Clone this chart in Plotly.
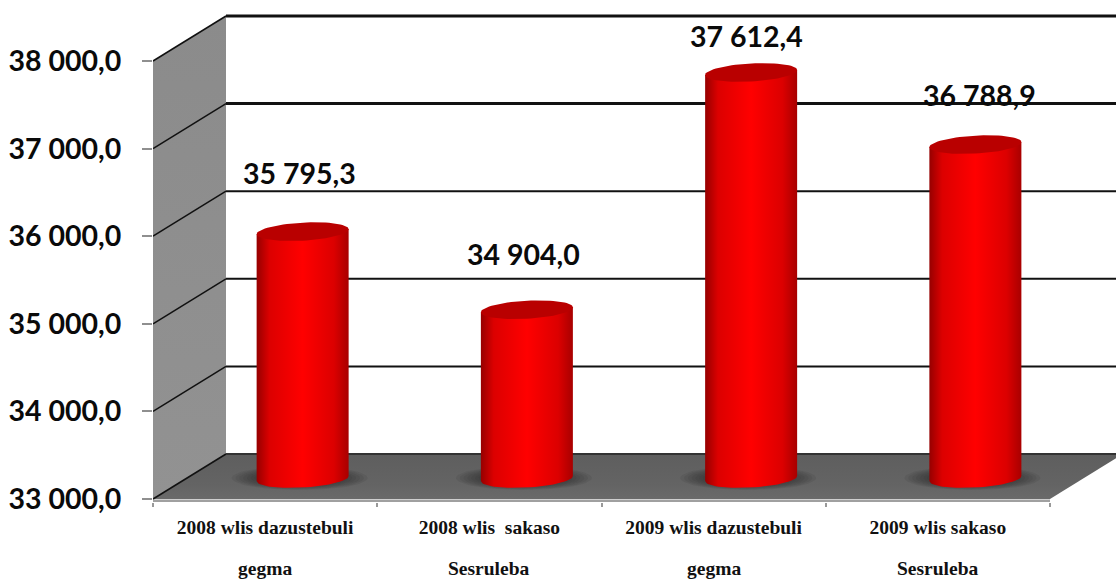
import numpy as np
import plotly.graph_objects as go

categories_line1 = ["2008 wlis dazustebuli", "2008 wlis  sakaso", "2009 wlis dazustebuli", "2009 wlis sakaso"]
categories_line2 = ["gegma", "Sesruleba", "gegma", "Sesruleba"]
values = [35795.3, 34904.0, 37612.4, 36788.9]
value_labels = ["35 795,3", "34 904,0", "37 612,4", "36 788,9"]
y_ticks = [33000, 34000, 35000, 36000, 37000, 38000]
y_tick_labels = ["33 000,0", "34 000,0", "35 000,0", "36 000,0", "37 000,0", "38 000,0"]

# Pixel geometry of the fake 3-D box, expressed through the axes' scale
PX_X = 224.25   # px per category
PX_Y = 0.0876   # px per value unit
DEPTH_X = 73 / PX_X
DEPTH_Y = 45 / PX_Y
BAR_NUDGE = 1 / PX_X
BASE_NUDGE = 2 / PX_Y
HALF_W = 46 / PX_X
ELL_H = 9 / PX_Y
TILT = 2.5 / PX_Y
LABEL_LIFT = [59, 56, 36, 50]   # px above the cylinder top
LABEL_SHIFT = [-3, -3, -5, 4]

x_min, x_max = -0.5, -0.5 + 963 / PX_X
y_min, y_max = 33000 - 3 / PX_Y, 33000 + 499 / PX_Y
n = len(values)
floor_y, top_y = y_ticks[0], y_ticks[-1]

fig = go.Figure()


def poly(xs, ys, color=None, gradient=None, line=None, width=0):
    kw = dict(fillgradient=gradient) if gradient else dict(fillcolor=color)
    fig.add_trace(go.Scatter(
        x=list(xs), y=list(ys), mode="lines", fill="toself",
        line=dict(color=line or "rgba(0,0,0,0)", width=width),
        hoverinfo="skip", showlegend=False, **kw))


def seg(xs, ys, color, width):
    fig.add_trace(go.Scatter(x=xs, y=ys, mode="lines",
                             line=dict(color=color, width=width),
                             hoverinfo="skip", showlegend=False))


left, right = -0.5, n - 0.5
# side wall
poly([left, left + DEPTH_X, left + DEPTH_X, left],
     [top_y, top_y + DEPTH_Y, floor_y + DEPTH_Y, floor_y],
     gradient=dict(type="vertical", colorscale=[[0, "#929292"], [1, "#8b8b8b"]]))
# floor
poly([left, left + DEPTH_X, right + DEPTH_X, right],
     [floor_y, floor_y + DEPTH_Y, floor_y + DEPTH_Y, floor_y],
     gradient=dict(type="vertical", colorscale=[[0, "#6a6a6a"], [0.3, "#646464"], [1, "#5e5e5e"]]))
# floor lip
seg([left, right], [y_min + 10, y_min + 10], "#a0a0a0", 3)
# grid: diagonal on the wall and the horizontal on the back plane
grid_w = {33000: 2, 34000: 2, 35000: 2, 36000: 2, 37000: 3, 38000: 3}
for v in y_ticks:
    seg([left, left + DEPTH_X], [v, v + DEPTH_Y], "#111111", 1.5)
    seg([left + DEPTH_X, x_max], [v + DEPTH_Y, v + DEPTH_Y], "#111111" if v != 33000 else "#333333", grid_w[v])

t = np.linspace(0, 2 * np.pi, 73)
arc = np.linspace(0, np.pi, 37)
body_scale = [[0, "#960000"], [0.14, "#dc0000"], [0.5, "#ff0000"], [0.84, "#dc0000"], [1, "#a80000"]]

for i, v in enumerate(values):
    cx = i + DEPTH_X / 2 + BAR_NUDGE
    base = floor_y + DEPTH_Y / 2 - BASE_NUDGE
    top = v + DEPTH_Y / 2
    # soft shadow on the floor
    for k in np.linspace(1.0, 0.55, 9):
        poly(cx - 3 / PX_X + 68 / PX_X * k * np.cos(t),
             base + 12 / PX_Y * k * np.sin(t) + 0.5 / PX_Y,
             color="rgba(35,35,35,0.10)")
    # body: top-left, top-right, then the lower arc from right to left
    xs = np.r_[cx - HALF_W, cx + HALF_W, cx + HALF_W * np.cos(arc)]
    ys = np.r_[top - TILT, top + TILT, base + TILT * np.cos(arc) - ELL_H * np.sin(arc)]
    poly(xs, ys, gradient=dict(type="horizontal", colorscale=body_scale))
    # top cap
    poly(cx + HALF_W * np.cos(t), top + TILT * np.cos(t) + ELL_H * np.sin(t), color="#b90000")

for i, v in enumerate(values):
    fig.add_annotation(x=i + DEPTH_X / 2 + BAR_NUDGE, y=v + DEPTH_Y / 2, text=value_labels[i], showarrow=False,
                       yshift=LABEL_LIFT[i], xshift=LABEL_SHIFT[i],
                       font=dict(family="Lato", size=28.5, color="#0a0a0a", weight="bold"))
    # second row of the category label
    fig.add_annotation(x=i, y=y_min, text=categories_line2[i], showarrow=False, yshift=-66,
                       font=dict(family="Liberation Serif", size=19.5, color="#111111", weight="bold"))

fig.update_layout(
    width=1116, height=581, autosize=False,
    margin=dict(l=153, r=0, t=0, b=79, pad=0),
    paper_bgcolor="white", plot_bgcolor="white", showlegend=False,
    xaxis=dict(range=[x_min, x_max], showgrid=False, zeroline=False, showline=False,
               tickmode="array", tickvals=list(range(n)), ticktext=categories_line1,
               ticks="", ticklen=0, ticklabelstandoff=11,
               tickfont=dict(family="Liberation Serif", size=19.5, color="#111111", weight="bold"),
               minor=dict(tickmode="array", tickvals=[k - 0.5 for k in range(n + 1)],
                          ticks="outside", ticklen=4, tickcolor="#999999", tickwidth=1.5, showgrid=False)),
    yaxis=dict(range=[y_min, y_max], showgrid=False, zeroline=False, showline=False,
               tickmode="array", tickvals=y_ticks, ticktext=y_tick_labels,
               ticks="outside", ticklen=10, tickcolor="#8f8f8f", tickwidth=1.5,
               ticklabelstandoff=15,
               tickfont=dict(family="Lato", size=28.5, color="#0a0a0a", weight="bold")),
)

fig.write_html("out.html", config=dict(displayModeBar=False),
               post_script="document.body.style.margin='0';document.body.style.overflow='hidden';")
